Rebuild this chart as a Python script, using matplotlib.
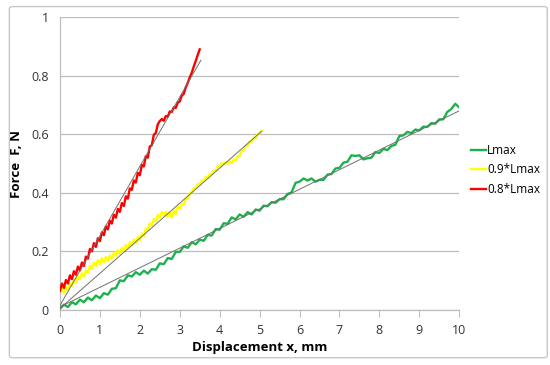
import matplotlib

matplotlib.use("Agg")
import matplotlib.pyplot as plt
import numpy as np
from matplotlib.patches import FancyBboxPatch

# Force vs displacement for three load levels.
X_STEP_RED = 0.05
RED_Y = [0.065, 0.090, 0.075, 0.102, 0.090, 0.118, 0.105, 0.132, 0.120, 0.148,
         0.135, 0.162, 0.150, 0.182, 0.175, 0.208, 0.200, 0.228, 0.215, 0.245,
         0.235, 0.265, 0.255, 0.285, 0.275, 0.305, 0.295, 0.325, 0.315, 0.345,
         0.335, 0.365, 0.355, 0.388, 0.380, 0.415, 0.410, 0.442, 0.435, 0.468,
         0.460, 0.495, 0.490, 0.525, 0.520, 0.558, 0.562, 0.598, 0.604, 0.634,
         0.645, 0.652, 0.646, 0.662, 0.660, 0.678, 0.676, 0.692, 0.690, 0.708,
         0.712, 0.732, 0.738, 0.760, 0.775, 0.794, 0.810, 0.831, 0.850, 0.871,
         0.890]

X_STEP_YELLOW = 0.05
YELLOW_Y = [0.072, 0.080, 0.057, 0.078, 0.067, 0.090, 0.082, 0.103, 0.092, 0.114,
            0.104, 0.125, 0.114, 0.136, 0.127, 0.150, 0.140, 0.161, 0.150, 0.170,
            0.157, 0.176, 0.162, 0.180, 0.167, 0.186, 0.174, 0.195, 0.184, 0.204,
            0.192, 0.212, 0.200, 0.221, 0.210, 0.231, 0.220, 0.240, 0.229, 0.249,
            0.238, 0.261, 0.252, 0.278, 0.272, 0.296, 0.287, 0.310, 0.302, 0.324,
            0.314, 0.334, 0.322, 0.336, 0.318, 0.333, 0.316, 0.338, 0.327, 0.352,
            0.346, 0.362, 0.361, 0.379, 0.381, 0.399, 0.401, 0.416, 0.416, 0.430,
            0.428, 0.442, 0.441, 0.454, 0.451, 0.465, 0.463, 0.477, 0.476, 0.491,
            0.491, 0.501, 0.496, 0.506, 0.499, 0.508, 0.501, 0.514, 0.511, 0.526,
            0.526, 0.543, 0.544, 0.560, 0.561, 0.576, 0.574, 0.588, 0.586, 0.601,
            0.603, 0.611]

X_STEP_GREEN = 0.1
GREEN_Y = [0.004, 0.018, 0.010, 0.026, 0.019, 0.035, 0.026, 0.042, 0.033, 0.049,
           0.040, 0.057, 0.052, 0.072, 0.074, 0.101, 0.098, 0.118, 0.114, 0.129,
           0.120, 0.134, 0.124, 0.139, 0.137, 0.159, 0.156, 0.177, 0.174, 0.198,
           0.198, 0.217, 0.212, 0.231, 0.224, 0.240, 0.236, 0.256, 0.254, 0.276,
           0.274, 0.296, 0.294, 0.316, 0.309, 0.326, 0.318, 0.334, 0.326, 0.343,
           0.339, 0.356, 0.354, 0.368, 0.366, 0.378, 0.378, 0.396, 0.401, 0.434,
           0.438, 0.449, 0.442, 0.449, 0.438, 0.444, 0.444, 0.462, 0.464, 0.483,
           0.485, 0.503, 0.506, 0.528, 0.526, 0.528, 0.514, 0.518, 0.520, 0.539,
           0.536, 0.550, 0.546, 0.560, 0.564, 0.594, 0.596, 0.608, 0.604, 0.616,
           0.613, 0.626, 0.625, 0.638, 0.636, 0.651, 0.651, 0.676, 0.686, 0.704,
           0.692]

# Linear trend lines (start and end points)
FIT_GREEN_X, FIT_GREEN_Y = [0.0, 10.0], [0.010, 0.680]
FIT_YELLOW_X, FIT_YELLOW_Y = [0.0, 5.05], [0.005, 0.610]
FIT_RED_X, FIT_RED_Y = [0.0, 3.53], [0.015, 0.853]

LABELS = ["Lmax", "0.9*Lmax", "0.8*Lmax"]
C_GREEN = "#1DB14B"
C_YELLOW = "#FFFF00"
C_RED = "#FF0000"
C_FIT = "#707070"
C_GRID = "#BEBEBE"


def xs(step, n):
    return np.arange(n) * step


def main():
    plt.rcParams.update({"font.family": ["Open Sans", "DejaVu Sans"]})
    fig = plt.figure(figsize=(5.5, 3.65), dpi=100)
    ax = fig.add_axes([0.109, 0.151, 0.726, 0.802])

    # outer chart frame
    fig.patches.append(FancyBboxPatch(
        (0.017, 0.02), 0.978, 0.962, boxstyle="round,pad=0,rounding_size=0.006",
        transform=fig.transFigure, fc="none", ec="#C8C8C8", lw=1.0))

    style = dict(lw=1.7, solid_joinstyle="round", zorder=3)
    ax.plot(xs(X_STEP_GREEN, len(GREEN_Y)), GREEN_Y, color=C_GREEN,
            label=LABELS[0], **style)
    ax.plot(xs(X_STEP_YELLOW, len(YELLOW_Y)), YELLOW_Y, color=C_YELLOW,
            label=LABELS[1], **style)
    ax.plot(xs(X_STEP_RED, len(RED_Y)), RED_Y, color=C_RED,
            label=LABELS[2], **style)

    for fx, fy in ((FIT_GREEN_X, FIT_GREEN_Y), (FIT_YELLOW_X, FIT_YELLOW_Y),
                   (FIT_RED_X, FIT_RED_Y)):
        ax.plot(fx, fy, color=C_FIT, lw=0.7, zorder=4)

    ax.set_xlim(0, 10)
    ax.set_ylim(0, 1)
    ax.set_xticks(range(0, 11))
    ax.set_yticks([0, 0.2, 0.4, 0.6, 0.8, 1.0])
    ax.set_yticklabels(["0", "0.2", "0.4", "0.6", "0.8", "1"])
    ax.yaxis.grid(True, color=C_GRID, lw=0.9, zorder=0)
    ax.tick_params(axis="y", length=0, pad=8, labelsize=9, labelcolor="#333333")
    ax.tick_params(axis="x", length=5, width=0.8, color=C_GRID, pad=5,
                   labelsize=9, labelcolor="#333333")
    for s in ("top", "right"):
        ax.spines[s].set_visible(False)
    for s in ("left", "bottom"):
        ax.spines[s].set_color(C_GRID)
        ax.spines[s].set_linewidth(0.9)

    ax.set_xlabel("Displacement x, mm", fontsize=9.5, fontweight="bold",
                  labelpad=3)
    ax.set_ylabel("Force  F, N", fontsize=9.5, fontweight="bold", labelpad=6)

    fig.legend(loc="center left", bbox_to_anchor=(0.845, 0.535), frameon=False,
               fontsize=8.5, handlelength=1.3, handletextpad=0.1,
               labelspacing=0.55, borderpad=0)

    fig.savefig("out.png", dpi=100)


if __name__ == "__main__":
    main()
